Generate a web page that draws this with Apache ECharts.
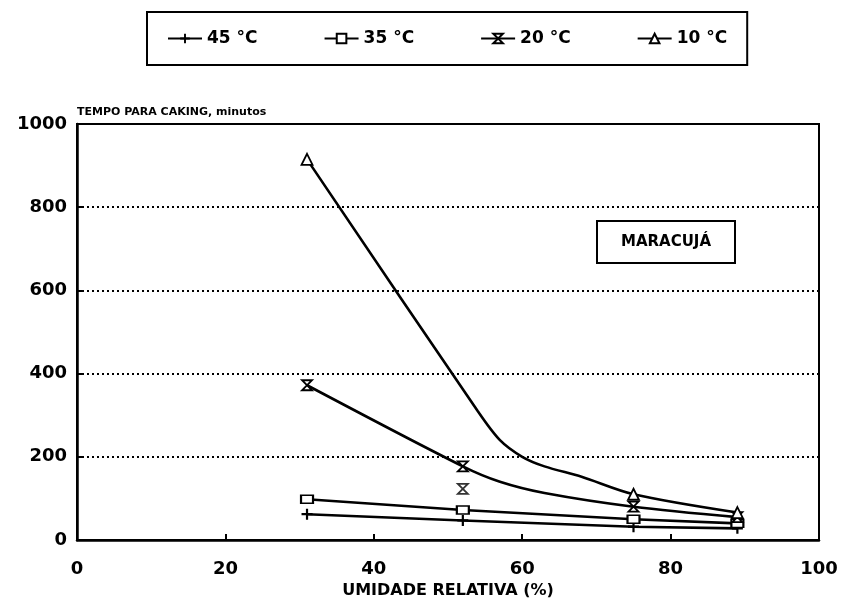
<!DOCTYPE html>
<html>
<head>
<meta charset="utf-8">
<script src="https://cdn.jsdelivr.net/npm/echarts@6/dist/echarts.min.js"></script>
<style>
  html, body { margin: 0; padding: 0; background: #fff; }
  #chart { width: 845px; height: 604px; }
</style>
</head>
<body>
<div id="chart"></div>
<script>
  // umidade relativa (%) dos pontos medidos
  var humidity = [31, 52, 75, 89];
  var t45 = [62, 47, 32, 28];
  var t35 = [98, 72, 50, 40];

  var curve20X = [31, 52, 57, 63, 75, 89];
  var curve20Y = [372, 177, 140, 113, 80, 55];
  var mark20 = [true, true, false, false, true, true];

  var curve10X = [31, 54, 57, 60, 63, 68, 75, 89];
  var curve10Y = [915, 310, 240, 200, 177, 152, 110, 66];
  var mark10 = [true, false, false, false, false, false, true, true];

  var outlierX = [52];
  var outlierY = [123];

  var xTicks = [0, 20, 40, 60, 80, 100];
  var yTicks = [0, 200, 400, 600, 800, 1000];

  var FONT = 'DejaVu Sans';

  function pairs(xs, ys, marks) {
    return xs.map(function (x, i) {
      var item = { value: [x, ys[i]] };
      if (marks && !marks[i]) item.symbol = 'none';
      return item;
    });
  }

  var plusIcon = 'path://M4,0H6V4H10V6H6V10H4V6H0V4H4Z';
  var hourglass = 'path://M0,0H10L0,10H10Z';

  var myChart = echarts.init(document.getElementById('chart'));

  var lineStyle = { color: '#000', width: 2.6 };
  var itemStyle = { color: '#fff', borderColor: '#000', borderWidth: 1.8 };

  var option = {
    animation: false,
    backgroundColor: '#fff',
    textStyle: { fontFamily: FONT, color: '#000' },
    legend: {
      data: ['45 °C', '35 °C', '20 °C', '10 °C'],
      left: 147,
      top: 12,
      padding: [18, 20],
      itemGap: 66,
      itemWidth: 34,
      itemHeight: 12,
      borderColor: '#000',
      borderWidth: 2,
      textStyle: { fontFamily: FONT, fontSize: 17, fontWeight: 'bold', color: '#000' }
    },
    grid: {
      left: 77,
      right: 26,
      top: 124,
      bottom: 64,
      outerBoundsMode: 'none',
      show: true,
      borderColor: '#000',
      borderWidth: 2
    },
    xAxis: {
      type: 'value',
      min: 0,
      max: 100,
      interval: 20,
      name: 'UMIDADE RELATIVA (%)',
      nameLocation: 'middle',
      nameGap: 35,
      nameTextStyle: { fontFamily: FONT, fontSize: 16, fontWeight: 'bold', color: '#000' },
      axisLine: { lineStyle: { color: '#000', width: 2.5 } },
      axisTick: { inside: true, length: 6, lineStyle: { color: '#000', width: 2 } },
      axisLabel: { margin: 20, fontFamily: FONT, fontSize: 18, fontWeight: 'bold', color: '#000' },
      splitLine: { show: false }
    },
    yAxis: {
      type: 'value',
      min: 0,
      max: 1000,
      interval: 200,
      name: 'TEMPO PARA CAKING, minutos',
      nameLocation: 'end',
      nameGap: 6,
      nameTextStyle: { fontFamily: FONT, fontSize: 11, fontWeight: 'bold', color: '#000', align: 'left' },
      axisLine: { show: true, lineStyle: { color: '#000', width: 2.5 } },
      axisTick: { inside: true, length: 6, lineStyle: { color: '#000', width: 2 } },
      axisLabel: {
        margin: 10, fontFamily: FONT, fontSize: 18, fontWeight: 'bold', color: '#000',
        formatter: function (v) { return String(v); }
      },
      splitLine: { lineStyle: { color: '#000', width: 2, type: [2, 3] } }
    },
    graphic: [
      {
        type: 'group',
        left: 596,
        top: 220,
        children: [
          { type: 'rect', shape: { x: 0, y: 0, width: 138, height: 42 },
            style: { fill: '#fff', stroke: '#000', lineWidth: 2 } },
          { type: 'text', x: 69, y: 21,
            style: { text: 'MARACUJÁ', fill: '#000', font: 'bold 15px "DejaVu Sans"',
                     align: 'center', verticalAlign: 'middle' } }
        ]
      }
    ],
    series: [
      {
        name: '45 °C',
        type: 'line',
        data: pairs(humidity, t45),
        symbol: plusIcon,
        symbolSize: 11,
        lineStyle: lineStyle,
        itemStyle: { color: '#000' }
      },
      {
        name: '35 °C',
        type: 'line',
        data: pairs(humidity, t35),
        symbol: 'rect',
        symbolSize: [12, 8],
        lineStyle: lineStyle,
        itemStyle: itemStyle
      },
      {
        name: '20 °C',
        type: 'line',
        data: pairs(curve20X, curve20Y, mark20),
        smooth: 0.3,
        symbol: hourglass,
        symbolSize: 10,
        lineStyle: lineStyle,
        itemStyle: itemStyle
      },
      {
        name: '10 °C',
        type: 'line',
        data: pairs(curve10X, curve10Y, mark10),
        smooth: 0.3,
        symbol: 'triangle',
        symbolSize: 11,
        lineStyle: lineStyle,
        itemStyle: itemStyle
      },
      {
        name: 'outlier',
        type: 'scatter',
        data: pairs(outlierX, outlierY),
        symbol: hourglass,
        symbolSize: 10,
        itemStyle: itemStyle
      }
    ]
  };

  myChart.setOption(option);
</script>
</body>
</html>
